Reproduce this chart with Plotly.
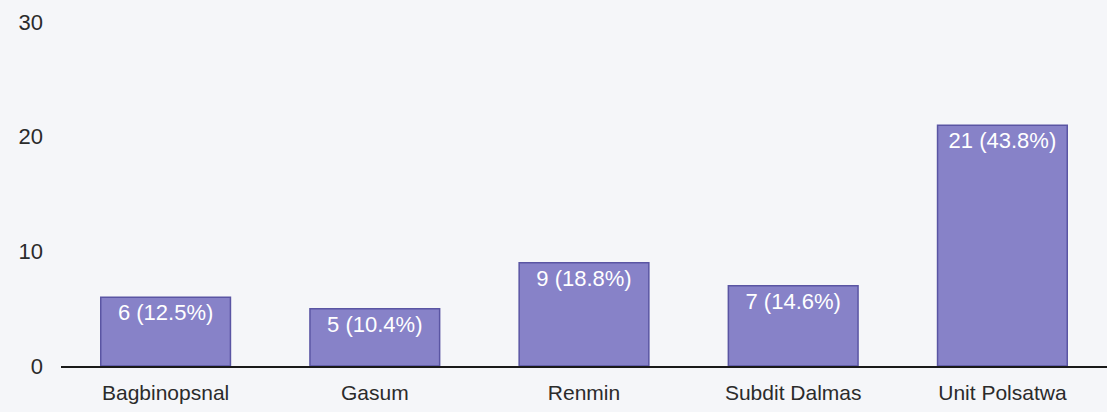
import plotly.graph_objects as go

# Respondent counts per unit
units = ["Bagbinopsnal", "Gasum", "Renmin", "Subdit Dalmas", "Unit Polsatwa"]
counts = [6, 5, 9, 7, 21]
percents = [12.5, 10.4, 18.8, 14.6, 43.8]
y_ticks = [0, 10, 20, 30]

labels = [f"{c} ({p}%)" for c, p in zip(counts, percents)]

fig = go.Figure(
    go.Bar(
        x=units,
        y=counts,
        text=labels,
        textposition="inside",
        insidetextanchor="end",
        textangle=0,
        textfont=dict(color="white", size=22, family="Liberation Sans, Arial, sans-serif"),
        marker=dict(color="#8782c8", line=dict(color="#5a55a3", width=1.5)),
        cliponaxis=False,
    )
)

fig.update_layout(
    width=1107,
    height=412,
    margin=dict(l=61, r=0, t=22, b=46),
    paper_bgcolor="#f5f6f9",
    plot_bgcolor="#f5f6f9",
    bargap=0.38,
    showlegend=False,
    font=dict(family="Liberation Sans, Arial, sans-serif", color="#2b2b2b", size=21),
)

fig.update_xaxes(
    showline=True,
    linecolor="#1a1a1a",
    linewidth=2,
    showgrid=False,
    ticks="",
    tickfont=dict(size=21),
    ticklabelstandoff=7,
)

fig.update_yaxes(
    range=[0, 30],
    tickvals=y_ticks,
    showgrid=False,
    zeroline=False,
    showline=False,
    ticks="",
    tickfont=dict(size=22),
    ticklabelstandoff=17,
)

fig.write_html("out.html")
